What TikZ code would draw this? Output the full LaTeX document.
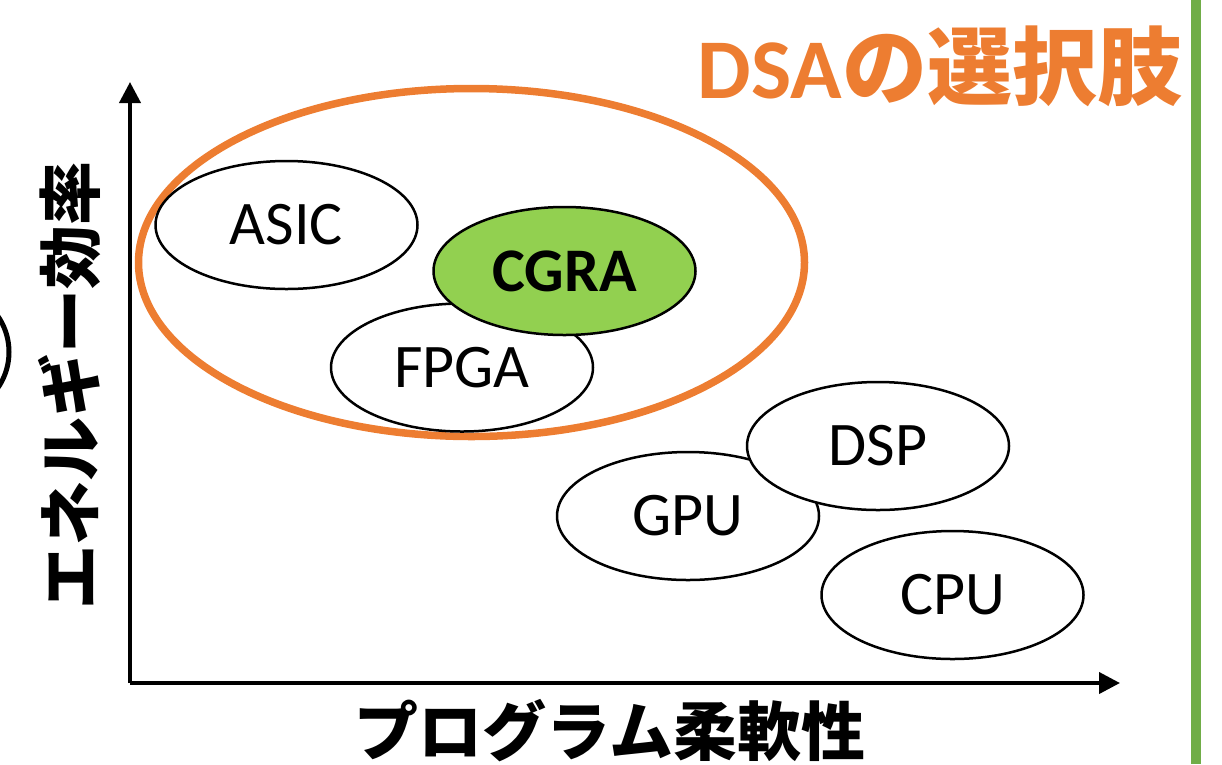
\documentclass[tikz,border=0pt]{standalone}
\usepackage{fontspec}
\setmainfont{Carlito}
\newfontfamily\jpfont{Noto Sans CJK JP}
\usepackage{tikz}
\usetikzlibrary{shapes.geometric, arrows.meta}
\definecolor{dsaorange}{HTML}{ED7D31}
\definecolor{cgragreen}{HTML}{92D050}
\definecolor{barGreen}{HTML}{70AD47}
\tikzset{
  chip/.style={ellipse, draw=black, line width=2.5pt, fill=white, minimum width=262pt, minimum height=128pt, inner sep=0pt, font=\fontsize{62}{70}\selectfont},
  axis/.style={line width=4pt, -{Triangle[length=21pt,width=21pt]}},
  axislabel/.style={font=\jpfont\bfseries\fontsize{64}{70}\selectfont, inner sep=0pt}
}

\begin{document}
\begin{tikzpicture}[x=1pt, y=-1pt,
		pick/.style={ellipse, draw=dsaorange, line width=7.5pt, minimum width=666pt, minimum height=348pt, inner sep=0pt}]
		\useasboundingbox (0,0) rectangle (1222,764);
		% 軸
		\coordinate (O) at (130,683);
		\coordinate (Ytop) at (130,82);
		\coordinate (Xend) at (1120,683);
		\draw[axis] (O) -- (Ytop);
		\draw[axis] (O) -- (Xend);
		\node[axislabel, rotate=90] (ylab) at (70,385) {エネルギー効率};
		\node[axislabel] (xlab) at (610,731) {プログラム柔軟性};
		
		% 左端の円 (切れている)
		\draw[line width=5pt] (-54,352) circle (63);
		% 右端の緑線
		\draw[barGreen, line width=10pt] (1196,0) -- (1196,764);
		
		% DSAの選択肢
		\node[pick] (dsa) at (471.5,262.5) {};
		\node[text=dsaorange, inner sep=0pt, font=\fontsize{85}{95}\selectfont\bfseries] (title) at (940,66) {DSA{\jpfont の選択肢}};
		
		% 各アーキテクチャ
		\node[chip] (asic) at (286.5,225) {ASIC};
		\node[chip] (fpga) at (462,367.5) {FPGA};
		\node[chip, fill=cgragreen, font=\fontsize{62}{70}\selectfont\bfseries] (cgra) at (564.5,271) {CGRA};
		\node[chip] (gpu) at (688,516) {GPU};
		\node[chip] (dsp) at (878,446) {DSP};
		\node[chip] (cpu) at (952.5,595) {CPU};
	\end{tikzpicture}
\end{document}
